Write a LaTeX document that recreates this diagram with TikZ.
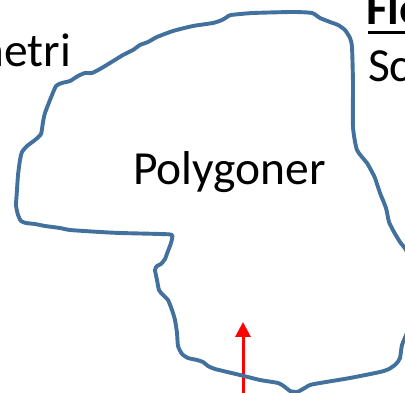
\documentclass[tikz,border=0pt]{standalone}
\usepackage{fontspec}
\setmainfont{Carlito}
\usetikzlibrary{arrows.meta}
\definecolor{polyblue}{HTML}{41719C}
\tikzset{
  outline/.style={draw=polyblue, line width=3.9pt, line join=round, line cap=round},
  slidetext/.style={inner sep=0pt, outer sep=0pt, font=\fontsize{47.5}{52}\selectfont},
  redarrow/.style={draw=red, line width=3pt, -{Triangle[width=15pt,length=15pt]}}
}
\begin{document}
\begin{tikzpicture}[x=1pt,y=-1pt]
\useasboundingbox (0,0) rectangle (405,393);
\clip (0,0) rectangle (405,393);
\fill[white] (0,0) rectangle (405,393);
% red arrow (behind outline)
\coordinate (arrowtail) at (243,405);
\coordinate (arrowtip) at (243,322);
\draw[redarrow] (arrowtail) -- (arrowtip);
% polygon outline
\draw[outline] plot[smooth cycle, tension=0.35] coordinates {
 (56,86) (62,83) (70,81) (78,76) (85,73) (92,73) (100,69) (110,63) (123,55) (133,50)
 (140,45) (148,42) (157,37) (173,31) (193,26) (213,23) (222,20) (227,17) (231,15)
 (253,13) (293,12) (312,13) (320,18) (330,22) (338,25) (345,30) (350,38) (352,47)
 (353,83) (353,127) (357,150) (367,163) (372,172) (375,178) (380,193) (386,208)
 (389,222) (394,232) (400,242) (407,252) (413,280) (414,305) (408,330)
 (402,345) (400,358) (396,364) (389,369) (380,372) (350,378) (320,383) (310,385)
 (303,389) (297,392) (290,391) (285,387) (278,383) (260,380) (240,375) (215,369)
 (208,366) (203,362) (197,360) (188,358) (182,354) (178,346) (177,333) (175,320)
 (172,310) (168,300) (163,295) (159,290) (157,280) (155,270) (157,266) (161,264)
 (165,259) (168,251) (171,243) (172,235)
 (160,234) (120,233) (100,232) (70,230) (60,228) (45,226) (35,224) (26,223) (21,221)
 (18,215) (16,205) (17,190) (18,175) (20,160) (22,152) (27,146) (35,140) (41,134)
 (43,122) (45,113) (50,100)
};
% texts
\node[slidetext, anchor=base east] (geo) at (71,67) {Geometri};
\node[slidetext, anchor=base west] (poly) at (133,185) {Polygoner};
\node[slidetext, anchor=base west, font=\fontsize{47.5}{52}\selectfont\bfseries] (fl) at (366,25) {Fle};
\coordinate (ulstart) at (368,33);
\coordinate (ulend) at (410,33);
\draw[line width=3pt] (ulstart) -- (ulend);
\node[slidetext, anchor=base west] (sc) at (368,82) {Sc};
\end{tikzpicture}
\end{document}
